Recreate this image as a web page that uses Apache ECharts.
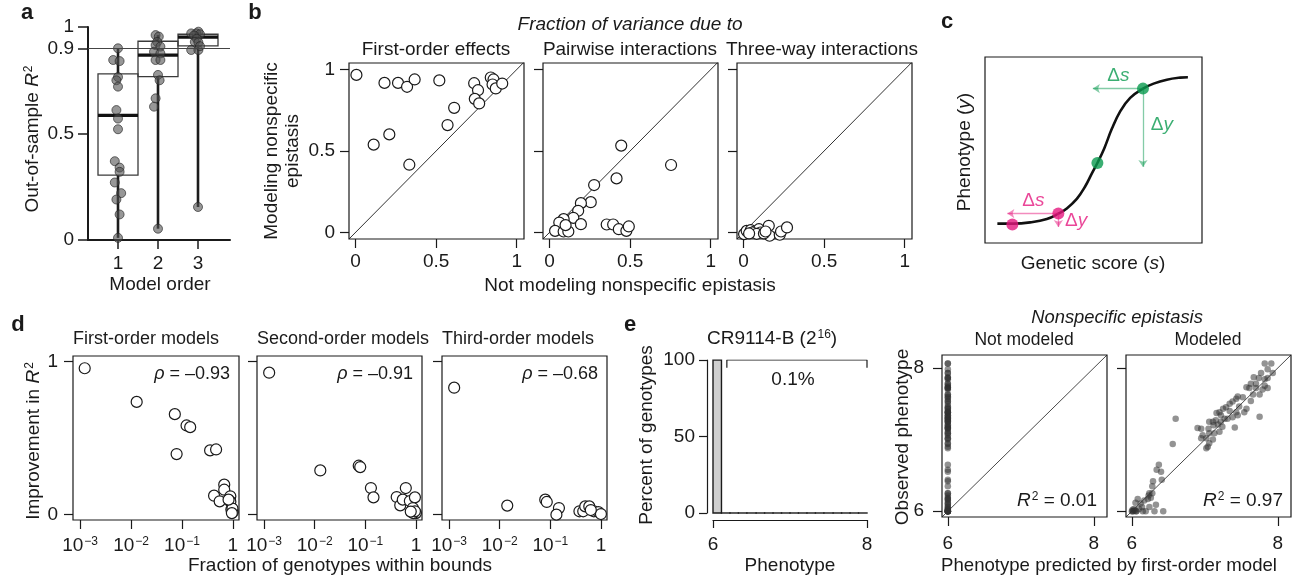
<!DOCTYPE html>
<html>
<head>
<meta charset="utf-8">
<script src="https://cdn.jsdelivr.net/npm/echarts@6/dist/echarts.min.js"></script>
<style>
  html, body { margin: 0; padding: 0; background: #fff; }
  #chart { width: 1298px; height: 577px; }
</style>
</head>
<body>
<div id="chart"></div>
<script>
// Multi-panel figure (a–e): R² by model order, variance fractions,
// sigmoid schematic, improvement vs fraction within bounds, CR9114-B.

const FONT = 'Liberation Sans, Arial, Helvetica, sans-serif'
const FS = 19
const INK = '#1a1a1a'
const GREEN = '#0a9a4f'
const MAGENTA = '#e5187e'

// ---- a: out-of-sample R² per model order (jittered x) ----
const aOrder1 = [1.0, 0.88, 1.04, 1.0, 0.96, 1.0, 0.96, 1.0, 1.0, 0.92, 1.04, 1.04, 0.92, 1.08, 0.96, 1.04, 1.0]
const aR2_1 = [0.90, 0.845, 0.84, 0.765, 0.75, 0.72, 0.61, 0.57, 0.52, 0.37, 0.34, 0.32, 0.27, 0.22, 0.19, 0.12, 0.01]
const aOrder2 = [1.94, 2.02, 1.98, 1.94, 2.06, 1.9, 2.06, 1.94, 2.06, 2.0, 2.04, 1.94, 1.9, 2.0]
const aR2_2 = [0.962, 0.955, 0.93, 0.915, 0.908, 0.884, 0.876, 0.845, 0.845, 0.775, 0.75, 0.665, 0.626, 0.053]
const aOrder3 = [3.01, 2.83, 2.96, 3.05, 2.9, 2.97, 2.92, 3.01, 2.83, 3.01, 3.05, 3.0]
const aR2_3 = [0.978, 0.97, 0.97, 0.966, 0.96, 0.945, 0.93, 0.928, 0.892, 0.892, 0.91, 0.155]
const boxOrder = [1, 2, 3]
const boxLow = [0.01, 0.053, 0.155]
const boxQ1 = [0.305, 0.767, 0.911]
const boxMedian = [0.585, 0.868, 0.952]
const boxQ3 = [0.78, 0.933, 0.966]
const boxHigh = [0.90, 0.962, 0.978]
const r2Threshold = 0.9

// ---- b: fraction of variance, not modeling (x) vs modeling (y) ----
const bFirstX = [0.006, 0.18, 0.264, 0.32, 0.367, 0.52, 0.113, 0.21, 0.334, 0.571, 0.612, 0.736, 0.76, 0.74, 0.767, 0.839, 0.856, 0.85, 0.87, 0.91]
const bFirstY = [0.967, 0.918, 0.918, 0.894, 0.939, 0.933, 0.539, 0.602, 0.416, 0.659, 0.765, 0.916, 0.873, 0.82, 0.792, 0.951, 0.939, 0.908, 0.884, 0.914]
const bPairX = [0.445, 0.754, 0.416, 0.277, 0.256, 0.195, 0.178, 0.148, 0.088, 0.061, 0.195, 0.035, 0.088, 0.117, 0.355, 0.395, 0.43, 0.477, 0.492, 0.1]
const bPairY = [0.533, 0.414, 0.332, 0.291, 0.186, 0.18, 0.133, 0.09, 0.082, 0.061, 0.051, 0.01, 0.006, 0.006, 0.049, 0.049, 0.02, 0.01, 0.037, 0.045]
const bThreeX = [0.004, 0.02, 0.045, 0.07, 0.096, 0.106, 0.157, 0.162, 0.225, 0.233, 0.27, 0.055, 0.082, 0.127, 0.137, 0.035]
const bThreeY = [-0.01, 0.01, 0.014, 0.006, 0.02, 0.0, 0.041, -0.02, -0.014, 0.006, 0.031, 0.0, -0.008, -0.006, 0.006, -0.006]
const bTitles = ['First-order effects', 'Pairwise interactions', 'Three-way interactions']

// ---- c: schematic sigmoid (genetic score -> phenotype) ----
const cScore = [0.057, 0.131, 0.208, 0.285, 0.338, 0.377, 0.423, 0.462, 0.492, 0.518, 0.549, 0.585, 0.623, 0.669, 0.728, 0.777, 0.838, 0.9, 0.935]
const cPheno = [0.104, 0.104, 0.111, 0.129, 0.158, 0.186, 0.237, 0.305, 0.373, 0.43, 0.507, 0.615, 0.708, 0.78, 0.83, 0.857, 0.878, 0.889, 0.891]
const cDotScore = [0.126, 0.338, 0.518, 0.728]
const cDotPheno = [0.099, 0.158, 0.43, 0.83]
const cDotColor = [MAGENTA, MAGENTA, GREEN, GREEN]
// arrows: [fromScore, fromPheno, toScore, toPheno]
const cArrows = [[0.728, 0.83, 0.497, 0.83], [0.728, 0.83, 0.728, 0.409], [0.338, 0.158, 0.103, 0.158], [0.338, 0.158, 0.338, 0.086]]
const cArrowColor = [GREEN, GREEN, MAGENTA, MAGENTA]
const cNotes = [[0.615, 0.9, 'Δ{i|s}'], [0.815, 0.638, 'Δ{i|y}'], [0.223, 0.226, 'Δ{i|s}'], [0.42, 0.118, 'Δ{i|y}']]
const cNoteColor = [GREEN, GREEN, MAGENTA, MAGENTA]

// ---- d: improvement in R² vs fraction of genotypes within bounds ----
const dFirstFrac = [0.00123, 0.0129, 0.0724, 0.123, 0.145, 0.0785, 0.357, 0.468, 0.676, 0.427, 0.55, 0.676, 0.891, 0.891, 0.933, 1.0, 0.98, 0.822, 0.955]
const dFirstGain = [0.957, 0.737, 0.657, 0.583, 0.572, 0.396, 0.42, 0.426, 0.196, 0.124, 0.087, 0.163, 0.12, 0.085, 0.033, 0.017, 0.04, 0.098, 0.01]
const dSecondFrac = [0.00126, 0.0129, 0.0741, 0.0794, 0.129, 0.145, 0.417, 0.49, 0.631, 0.55, 0.759, 0.955, 0.871, 1.0, 0.89, 0.955, 0.79]
const dSecondGain = [0.928, 0.289, 0.32, 0.311, 0.174, 0.113, 0.115, 0.061, 0.174, 0.098, 0.089, 0.113, 0.043, 0.01, 0.01, 0.022, 0.02]
const dThirdFrac = [0.00126, 0.0141, 0.0794, 0.0851, 0.148, 0.132, 0.376, 0.447, 0.49, 0.589, 0.724, 0.891, 1.0, 0.631]
const dThirdGain = [0.83, 0.059, 0.098, 0.083, 0.043, 0.0, 0.022, 0.022, 0.054, 0.054, 0.022, 0.017, 0.004, 0.03]
const dTitles = ['First-order models', 'Second-order models', 'Third-order models']
const dRho = ['–0.93', '–0.91', '–0.68']

// ---- e: CR9114-B phenotype histogram ----
const histStart = [6.0, 6.11, 6.22, 6.33, 6.44, 6.56, 6.67, 6.78, 6.89, 7.0, 7.11, 7.22, 7.33, 7.44, 7.56, 7.67, 7.78, 7.89]
const histEnd = [6.11, 6.22, 6.33, 6.44, 6.56, 6.67, 6.78, 6.89, 7.0, 7.11, 7.22, 7.33, 7.44, 7.56, 7.67, 7.78, 7.89, 8.0]
const histPercent = [99.9, 0.01, 0.01, 0.01, 0.01, 0.005, 0.005, 0.005, 0.005, 0.005, 0.005, 0.005, 0.005, 0.005, 0.005, 0.005, 0.005, 0.005]
const bracketSpan = [6.18, 8.0]
const bracketLevel = [95, 100]

// ---- e: predicted (first-order model) vs observed phenotype ----
const notModeledPrediction = 6
const eModeled = [
  [7.82, 8.06], [7.91, 8.06], [7.86, 7.98], [7.93, 7.93], [7.77, 7.93], [7.74, 7.86], [7.82, 7.84], [7.86, 7.86],
  [7.67, 7.87], [7.63, 7.78], [7.70, 7.78], [7.82, 7.75], [7.79, 7.70], [7.86, 7.72], [7.75, 7.63], [7.57, 7.73],
  [7.61, 7.72], [7.45, 7.60], [7.52, 7.59], [7.43, 7.57], [7.38, 7.53], [7.34, 7.50], [7.47, 7.46], [7.29, 7.45],
  [7.25, 7.43], [7.20, 7.38], [7.16, 7.37], [7.43, 7.38], [7.45, 7.34], [7.38, 7.31], [7.31, 7.29], [7.27, 7.29],
  [7.22, 7.25], [7.15, 7.27], [7.11, 7.25], [7.06, 7.25], [7.12, 7.20], [7.18, 7.21], [7.05, 7.15], [6.95, 7.15],
  [6.90, 7.16], [7.24, 7.18], [7.20, 7.11], [7.13, 7.09], [7.06, 7.09], [6.97, 7.06], [7.02, 7.02], [7.11, 7.00],
  [6.95, 7.02], [7.06, 6.95], [7.04, 6.90], [7.02, 6.88], [7.34, 7.40], [7.22, 7.34], [7.41, 7.17], [7.75, 7.32],
  [7.57, 7.43], [7.63, 7.54], [7.66, 7.63], [7.70, 7.72], [7.54, 7.38], [6.60, 7.29], [6.56, 6.94], [6.37, 6.65],
  [6.34, 6.58], [6.40, 6.55], [6.41, 6.44], [6.29, 6.42], [6.28, 6.35], [6.24, 6.25], [6.23, 6.22], [6.22, 6.17],
  [6.26, 6.19], [6.43, 6.00], [6.33, 6.09], [6.24, 6.06], [6.31, 6.00], [6.15, 6.00], [6.03, 6.03], [6.10, 6.03],
  [6.19, 6.00], [6.06, 6.00], [6.01, 6.00], [6.12, 6.11], [6.17, 6.15], [6.08, 6.17], [6.05, 6.12], [6.28, 6.25],
  [6.14, 6.06], [6.00, 6.00], [6.02, 6.00], [6.04, 6.01], [6.01, 6.02], [6.06, 6.00]
]

const rich = {
  i: { fontStyle: 'italic', fontFamily: FONT, color: INK },
  sup: { fontSize: 12, fontFamily: FONT, color: INK, verticalAlign: 'top', padding: [0, 0, 6, 1] }
}

function zip(xs, ys) { return xs.map(function (x, i) { return [x, ys[i]] }) }

function framedAxis(grid, min, max, ticks, margin, formatter) {
  return {
    type: 'value', gridIndex: grid, min: min, max: max,
    axisLine: { show: false, onZero: false },
    axisTick: { show: true, length: 9, customValues: ticks, lineStyle: { color: INK, width: 1.2 } },
    axisLabel: { customValues: ticks, margin: margin, fontSize: FS, fontFamily: FONT, color: INK, formatter: formatter, rich: rich },
    splitLine: { show: false }
  }
}

function hiddenAxis(grid, min, max) {
  return { type: 'value', gridIndex: grid, min: min, max: max, show: false, splitLine: { show: false } }
}

function txt(x, y, text, o) {
  o = o || {}
  const size = o.size || FS
  return {
    type: 'text', x: x, y: y, rotation: o.rotate ? Math.PI / 2 : 0, silent: true,
    style: {
      text: text, fill: o.color || INK, fontSize: size, fontFamily: FONT,
      fontStyle: o.italic ? 'italic' : 'normal', fontWeight: o.bold ? 'bold' : 'normal',
      textAlign: o.align || 'center', textVerticalAlign: 'middle', lineHeight: o.lineHeight || 21,
      rich: {
        i: { fontStyle: 'italic', fontFamily: FONT, fontSize: size, fill: INK },
        sup: { fontSize: 12, fontFamily: FONT, fill: INK, verticalAlign: 'top', padding: [0, 0, 6, 1] }
      }
    }
  }
}

const frame = { show: true, borderColor: INK, borderWidth: 1.2, backgroundColor: 'transparent' }
const bLeft = [349, 543, 737]
const dLeft = [73, 257, 442]
const dWidth = [166, 165, 165]
const eLeft = [942, 1126]

const grids = [
  { left: 88, top: 27, width: 142, height: 213 }, // 0 a
  Object.assign({ left: bLeft[0], top: 63, width: 175, height: 176 }, frame), // 1 b1
  Object.assign({ left: bLeft[1], top: 63, width: 175, height: 176 }, frame), // 2 b2
  Object.assign({ left: bLeft[2], top: 63, width: 175, height: 176 }, frame), // 3 b3
  Object.assign({ left: 985, top: 57, width: 217, height: 186 }, frame), // 4 c
  Object.assign({ left: dLeft[0], top: 356, width: dWidth[0], height: 164 }, frame), // 5 d1
  Object.assign({ left: dLeft[1], top: 356, width: dWidth[1], height: 164 }, frame), // 6 d2
  Object.assign({ left: dLeft[2], top: 356, width: dWidth[2], height: 164 }, frame), // 7 d3
  { left: 713, top: 360, width: 154, height: 153 }, // 8 e hist
  Object.assign({ left: eLeft[0], top: 355, width: 165, height: 162 }, frame), // 9 e not modeled
  Object.assign({ left: eLeft[1], top: 355, width: 165, height: 162 }, frame) // 10 e modeled
]

const logLabel = function (v) { return v === 0 ? '1' : '10{sup|−' + (-v) + '}' }
const plain = function (v) { return String(v) }
const blank = function () { return '' }

const xAxes = [
  {
    type: 'value', gridIndex: 0, min: 0.25, max: 3.8,
    axisLine: { onZero: false, lineStyle: { color: INK, width: 2 } },
    axisTick: { length: 9, customValues: boxOrder, lineStyle: { color: INK, width: 1.5 } },
    axisLabel: { customValues: boxOrder, margin: 14, fontSize: FS, fontFamily: FONT, color: INK },
    splitLine: { show: false }
  },
  framedAxis(1, -0.04, 1.045, [0, 0.5, 1], 13, plain),
  framedAxis(2, -0.04, 1.045, [0, 0.5, 1], 13, plain),
  framedAxis(3, -0.04, 1.045, [0, 0.5, 1], 13, plain),
  hiddenAxis(4, 0, 1),
  framedAxis(5, -3.14, 0.12, [-3, -2, -1, 0], 16, logLabel),
  framedAxis(6, -3.14, 0.12, [-3, -2, -1, 0], 16, logLabel),
  framedAxis(7, -3.14, 0.12, [-3, -2, -1, 0], 16, logLabel),
  {
    type: 'value', gridIndex: 8, min: 6, max: 8, offset: 7,
    axisLine: { onZero: false, lineStyle: { color: INK, width: 1.2 } },
    axisTick: { length: 8, customValues: [6, 8], lineStyle: { color: INK, width: 1.2 } },
    axisLabel: { customValues: [6, 8], margin: 15, fontSize: FS, fontFamily: FONT, color: INK },
    splitLine: { show: false }
  },
  framedAxis(9, 5.92, 8.18, [6, 8], 17, plain),
  framedAxis(10, 5.92, 8.18, [6, 8], 17, plain)
]

const yAxes = [
  {
    type: 'value', gridIndex: 0, min: 0, max: 1,
    axisLine: { onZero: false, lineStyle: { color: INK, width: 2 } },
    axisTick: { length: 10, customValues: [0, 0.5, 0.9, 1], lineStyle: { color: INK, width: 1.5 } },
    axisLabel: { customValues: [0, 0.5, 0.9, 1], margin: 14, fontSize: FS, fontFamily: FONT, color: INK },
    splitLine: { show: false }
  },
  framedAxis(1, -0.04, 1.04, [0, 0.5, 1], 14, plain),
  framedAxis(2, -0.04, 1.04, [0, 0.5, 1], 14, blank),
  framedAxis(3, -0.04, 1.04, [0, 0.5, 1], 14, blank),
  hiddenAxis(4, 0, 1),
  framedAxis(5, -0.035, 1.037, [0, 1], 15, plain),
  framedAxis(6, -0.035, 1.037, [0, 1], 15, blank),
  framedAxis(7, -0.035, 1.037, [0, 1], 15, blank),
  {
    type: 'value', gridIndex: 8, min: 0, max: 100, offset: 6,
    axisLine: { onZero: false, lineStyle: { color: INK, width: 1.2 } },
    axisTick: { length: 8, customValues: [0, 50, 100], lineStyle: { color: INK, width: 1.2 } },
    axisLabel: { customValues: [0, 50, 100], margin: 12, fontSize: FS, fontFamily: FONT, color: INK },
    splitLine: { show: false }
  },
  framedAxis(9, 5.92, 8.18, [6, 8], 18, plain),
  framedAxis(10, 5.92, 8.18, [6, 8], 18, blank)
]

const series = []

// a: whiskers + boxes + medians
series.push({
  type: 'custom', xAxisIndex: 0, yAxisIndex: 0, z: 2,
  data: boxOrder.map(function (x, i) { return [x, boxLow[i], boxQ1[i], boxMedian[i], boxQ3[i], boxHigh[i]] }),
  encode: { x: 0, y: [1, 2, 3, 4, 5] },
  renderItem: function (params, api) {
    const x = api.value(0)
    const half = 0.5
    const lo = api.coord([x, api.value(1)]), q1 = api.coord([x, api.value(2)])
    const q3 = api.coord([x, api.value(4)]), hi = api.coord([x, api.value(5)])
    const tl = api.coord([x - half, api.value(4)]), br = api.coord([x + half, api.value(2)])
    const m1 = api.coord([x - half, api.value(3)]), m2 = api.coord([x + half, api.value(3)])
    const wStyle = { stroke: '#1c1c1c', lineWidth: 2.6 }
    return {
      type: 'group',
      children: [
        { type: 'line', shape: { x1: lo[0], y1: lo[1], x2: q1[0], y2: q1[1] }, style: wStyle },
        { type: 'line', shape: { x1: q3[0], y1: q3[1], x2: hi[0], y2: hi[1] }, style: wStyle },
        { type: 'rect', shape: { x: tl[0], y: tl[1], width: br[0] - tl[0], height: br[1] - tl[1] }, style: { fill: 'none', stroke: '#3a3a3a', lineWidth: 1.3 } },
        { type: 'line', shape: { x1: m1[0], y1: m1[1], x2: m2[0], y2: m2[1] }, style: { stroke: '#111', lineWidth: 3.2 } }
      ]
    }
  },
  markLine: {
    silent: true, symbol: 'none', animation: false,
    label: { show: false },
    lineStyle: { color: '#444', width: 1, type: 'solid' },
    data: [{ yAxis: r2Threshold }]
  }
})
series.push({
  type: 'scatter', xAxisIndex: 0, yAxisIndex: 0, z: 3, symbolSize: 9,
  itemStyle: { color: 'rgba(80,80,80,0.74)', borderColor: 'rgba(35,35,35,0.8)', borderWidth: 1 },
  data: zip(aOrder1, aR2_1).concat(zip(aOrder2, aR2_2), zip(aOrder3, aR2_3))
})

// diagonal reference lines + open-circle scatters
function diagonal(grid, lo, hi, width) {
  return {
    type: 'line', xAxisIndex: grid, yAxisIndex: grid, symbol: 'none', z: 1, silent: true,
    lineStyle: { color: INK, width: width || 0.9 }, data: [[lo, lo], [hi, hi]]
  }
}
function openCircles(grid, pts) {
  return {
    type: 'scatter', xAxisIndex: grid, yAxisIndex: grid, z: 3, symbolSize: 11,
    itemStyle: { color: '#fff', borderColor: INK, borderWidth: 1.2, opacity: 1 },
    data: pts
  }
}

series.push(diagonal(1, -0.04, 1.045), diagonal(2, -0.04, 1.045), diagonal(3, -0.04, 1.045))
series.push(openCircles(1, zip(bFirstX, bFirstY)), openCircles(2, zip(bPairX, bPairY)), openCircles(3, zip(bThreeX, bThreeY)))

// c: sigmoid, dots, arrows, delta labels
series.push({
  type: 'line', xAxisIndex: 4, yAxisIndex: 4, smooth: 0.4, symbol: 'none', z: 2,
  lineStyle: { color: '#111', width: 2.6 }, data: zip(cScore, cPheno)
})
series.push({
  type: 'lines', coordinateSystem: 'cartesian2d', xAxisIndex: 4, yAxisIndex: 4, z: 3,
  symbol: ['none', 'arrow'], symbolSize: 7,
  data: cArrows.map(function (a, i) {
    return { coords: [[a[0], a[1]], [a[2], a[3]]], lineStyle: { color: cArrowColor[i], width: 1.3 } }
  })
})
series.push({
  type: 'scatter', xAxisIndex: 4, yAxisIndex: 4, z: 4, symbolSize: 12,
  data: cDotScore.map(function (s, i) { return { value: [s, cDotPheno[i]], itemStyle: { color: cDotColor[i] } } })
})
series.push({
  type: 'scatter', xAxisIndex: 4, yAxisIndex: 4, z: 5, symbolSize: 0, silent: true,
  data: cNotes.map(function (n, i) {
    return {
      value: [n[0], n[1]],
      label: {
        show: true, position: 'inside', formatter: n[2], fontSize: FS, fontFamily: FONT, color: cNoteColor[i],
        rich: { i: { fontStyle: 'italic', fontSize: FS, fontFamily: FONT, color: cNoteColor[i] } }
      }
    }
  })
})

// d: log-fraction vs improvement
const dSets = [[dFirstFrac, dFirstGain], [dSecondFrac, dSecondGain], [dThirdFrac, dThirdGain]]
dSets.forEach(function (s, k) {
  series.push(openCircles(5 + k, s[0].map(function (f, i) { return [Math.log10(f), s[1][i]] })))
})

// e: histogram
series.push({
  type: 'custom', xAxisIndex: 8, yAxisIndex: 8, z: 2,
  data: histStart.map(function (s, i) { return [s, histEnd[i], histPercent[i]] }),
  encode: { x: [0, 1], y: 2 },
  renderItem: function (params, api) {
    const p0 = api.coord([api.value(0), api.value(2)])
    const p1 = api.coord([api.value(1), 0])
    return {
      type: 'rect',
      shape: { x: p0[0], y: p0[1], width: p1[0] - p0[0], height: p1[1] - p0[1] },
      style: { fill: '#cfcfcf', stroke: INK, lineWidth: 1.4 }
    }
  }
})
series.push({
  type: 'line', xAxisIndex: 8, yAxisIndex: 8, symbol: 'none', z: 3, silent: true,
  lineStyle: { color: INK, width: 1.2 },
  data: [[bracketSpan[0], bracketLevel[0]], [bracketSpan[0], bracketLevel[1]], [bracketSpan[1], bracketLevel[1]], [bracketSpan[1], bracketLevel[0]]]
})

// e: predicted vs observed
const dotStyle = { color: 'rgba(50,50,50,0.66)' }
series.push(diagonal(9, 5.92, 8.18, 0.8), diagonal(10, 5.92, 8.18, 0.8))
series.push({
  type: 'scatter', xAxisIndex: 9, yAxisIndex: 9, z: 3, symbolSize: 6.5, itemStyle: dotStyle,
  data: eModeled.map(function (p) { return [notModeledPrediction, p[1]] })
})
series.push({
  type: 'scatter', xAxisIndex: 10, yAxisIndex: 10, z: 3, symbolSize: 6.5, itemStyle: dotStyle,
  data: eModeled
})

const graphics = [
  txt(27, 13, 'a', { bold: true, size: 22 }),
  txt(255, 13, 'b', { bold: true, size: 22 }),
  txt(947, 22, 'c', { bold: true, size: 22 }),
  txt(18, 325, 'd', { bold: true, size: 22 }),
  txt(630, 325, 'e', { bold: true, size: 22 }),
  // a
  txt(33, 139, 'Out-of-sample {i|R}{sup|2}', { rotate: true }),
  txt(160, 285, 'Model order'),
  // b
  txt(630, 25, 'Fraction of variance due to', { italic: true }),
  txt(bLeft[0] + 87, 50, bTitles[0]),
  txt(bLeft[1] + 87, 50, bTitles[1]),
  txt(bLeft[2] + 85, 50, bTitles[2]),
  txt(282, 151, 'Modeling nonspecific\nepistasis', { rotate: true }),
  txt(630, 286, 'Not modeling nonspecific epistasis'),
  // c
  txt(965, 152, 'Phenotype ({i|y})', { rotate: true }),
  txt(1093, 264, 'Genetic score ({i|s})'),
  // d
  txt(dLeft[0], 339, dTitles[0], { align: 'left', size: 18 }),
  txt(dLeft[1], 339, dTitles[1], { align: 'left', size: 18 }),
  txt(dLeft[2], 339, dTitles[2], { align: 'left', size: 18 }),
  txt(dLeft[0] + dWidth[0] - 9, 374, '{i|ρ} = ' + dRho[0], { align: 'right', size: 18 }),
  txt(dLeft[1] + dWidth[1] - 9, 374, '{i|ρ} = ' + dRho[1], { align: 'right', size: 18 }),
  txt(dLeft[2] + dWidth[2] - 9, 374, '{i|ρ} = ' + dRho[2], { align: 'right', size: 18 }),
  txt(34, 441, 'Improvement in {i|R}{sup|2}', { rotate: true }),
  txt(340, 566, 'Fraction of genotypes within bounds'),
  // e
  txt(707, 339, 'CR9114-B (2{sup|16})', { align: 'left' }),
  txt(793, 380, '0.1%'),
  txt(647, 435, 'Percent of genotypes', { rotate: true }),
  txt(790, 566, 'Phenotype'),
  txt(1117, 318, 'Nonspecific epistasis', { italic: true, size: 18.4 }),
  txt(eLeft[0] + 82, 340, 'Not modeled', { size: 17.5 }),
  txt(eLeft[1] + 82, 340, 'Modeled', { size: 17.5 }),
  txt(903, 437, 'Observed phenotype', { rotate: true }),
  txt(1109, 566, 'Phenotype predicted by first-order model', { size: 18.6 }),
  txt(1097, 501, '{i|R}{sup|2} = 0.01', { align: 'right' }),
  txt(1283, 501, '{i|R}{sup|2} = 0.97', { align: 'right' })
]

const chart = echarts.init(document.getElementById('chart'), null, { renderer: 'canvas' })
chart.setOption({
  animation: false,
  backgroundColor: '#fff',
  textStyle: { fontFamily: FONT },
  grid: grids,
  xAxis: xAxes,
  yAxis: yAxes,
  series: series,
  graphic: graphics
})
</script>
</body>
</html>
